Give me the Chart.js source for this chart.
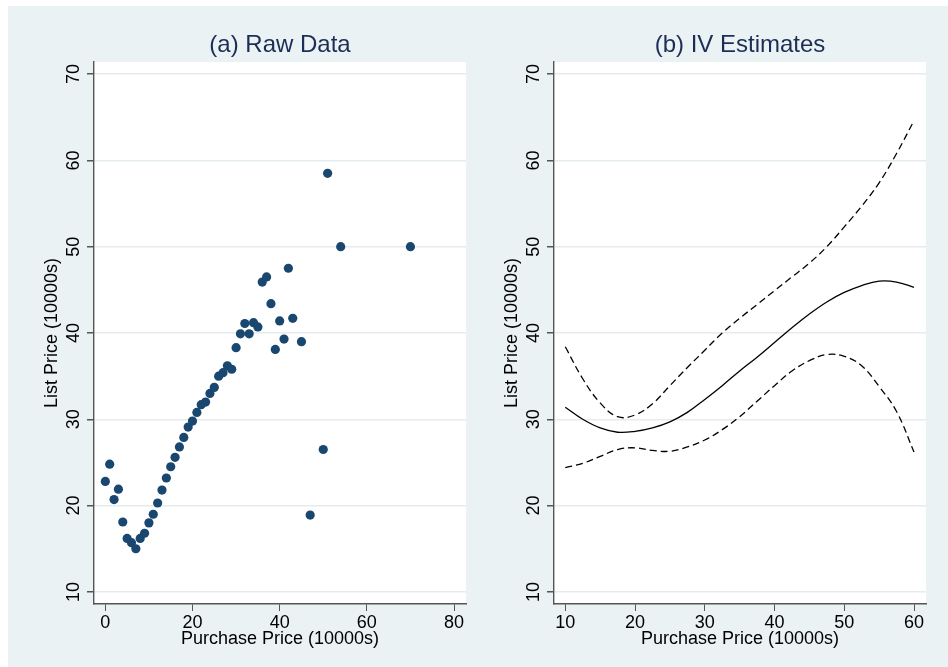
<!DOCTYPE html>
<html>
<head>
<meta charset="utf-8">
<title>List Price vs Purchase Price</title>
<script src="https://cdn.jsdelivr.net/npm/chart.js@4.4.1/dist/chart.umd.min.js"></script>
<style>
    body {
        margin: 0;
        width: 948px;
        height: 667px;
        overflow: hidden;
        position: relative;
        background: #ffffff;
    }

    #frame {
        position: absolute;
        left: 8px;
        top: 6px;
        width: 940px;
        height: 661px;
        background: #eaf2f3;
    }

    canvas {
        position: absolute;
        top: 6px;
    }

    #rawChart { left: 8px; }
    #ivChart { left: 478px; }
</style>
</head>
<body>

<div id="frame"></div>
<canvas id="rawChart" width="470" height="661"></canvas>
<canvas id="ivChart" width="470" height="661"></canvas>

<script>

// ================= DATA =================

// Axis ticks
const listTicks = [10, 20, 30, 40, 50, 60, 70];
const rawPurchaseTicks = [0, 20, 40, 60, 80];
const ivPurchaseTicks = [10, 20, 30, 40, 50, 60];

// (a) raw observations, purchase price vs list price (10000s)
const rawPurchase = [
    0, 1, 2, 3, 4, 5, 6, 7, 8, 9,
    10, 11, 12, 13, 14, 15, 16, 17, 18, 19,
    20, 21, 22, 23, 24, 25, 26, 27, 28, 29,
    30, 31, 32, 33, 34, 35, 36, 37, 38, 39,
    40, 41, 42, 43, 45, 47, 50, 51, 54, 70
];

const rawList = [
    22.8, 24.8, 20.7, 21.9, 18.1, 16.2, 15.7, 15.0, 16.2, 16.8,
    18.0, 19.0, 20.3, 21.8, 23.2, 24.5, 25.6, 26.8, 27.9, 29.1,
    29.8, 30.8, 31.7, 32.0, 33.0, 33.7, 35.0, 35.4, 36.2, 35.8,
    38.3, 39.9, 41.1, 39.9, 41.2, 40.7, 45.9, 46.5, 43.4, 38.1,
    41.4, 39.3, 47.5, 41.7, 39.0, 18.9, 26.5, 58.5, 50.0, 50.0
];

// (b) IV estimate with confidence band
const ivPurchase = [
    10, 12.5, 15, 17.5, 20, 22.5, 25, 27.5, 30, 32.5,
    35, 37.5, 40, 42.5, 45, 47.5, 50, 52.5, 55, 57.5, 60
];

const ivEstimate = [
    31.4, 30.0, 29.0, 28.5, 28.6, 29.0, 29.7, 30.8, 32.3, 33.9,
    35.6, 37.2, 38.9, 40.6, 42.2, 43.6, 44.7, 45.5, 46.0, 45.9, 45.3
];

const ivUpper = [
    38.4, 34.7, 31.9, 30.3, 30.5, 31.8, 33.9, 36.0, 38.0, 40.0,
    41.7, 43.3, 44.9, 46.5, 48.1, 50.0, 52.3, 54.7, 57.4, 60.8, 64.6
];

const ivLower = [
    24.4, 24.9, 25.7, 26.5, 26.7, 26.4, 26.3, 26.8, 27.6, 28.8,
    30.3, 32.1, 33.9, 35.6, 36.8, 37.5, 37.3, 36.2, 33.8, 30.9, 26.2
];


// ================= SHARED SETTINGS =================

Chart.defaults.font.family = "'Liberation Sans', Arial, sans-serif";
Chart.defaults.animation = false;

const axisColor = "#555555";
const gridColor = "#e4ecef";

function toPoints(xs, ys) {
    return xs.map((x, i) => ({ x: x, y: ys[i] }));
}

// White plot region inside the tinted frame
const plotBackground = {

    id: "plotBackground",

    beforeDraw(chart) {

        const { ctx, chartArea } = chart;

        ctx.save();
        ctx.fillStyle = "#ffffff";
        ctx.fillRect(
            chartArea.left,
            chartArea.top,
            chartArea.right - chartArea.left,
            chartArea.bottom - chartArea.top
        );
        ctx.restore();
    }
};

// Y tick labels turned on their side, centred on each tick
const sideTickLabels = {

    id: "sideTickLabels",

    afterDraw(chart) {

        const { ctx } = chart;
        const scale = chart.scales.y;

        ctx.save();
        ctx.fillStyle = "#000000";
        ctx.font = "18px 'Liberation Sans', Arial, sans-serif";
        ctx.textAlign = "center";
        ctx.textBaseline = "middle";

        scale.ticks.forEach(tick => {

            const y = scale.getPixelForValue(tick.value);

            ctx.save();
            ctx.translate(scale.right - 20, y);
            ctx.rotate(-Math.PI / 2);
            ctx.fillText(String(tick.value), 0, 0);
            ctx.restore();
        });

        ctx.restore();
    }
};

function listAxis(width) {
    return {
        type: "linear",
        min: 8.6,
        max: 71.4,
        afterBuildTicks: scale => {
            scale.ticks = listTicks.map(v => ({ value: v }));
        },
        afterFit: scale => {
            scale.width = width;
        },
        ticks: {
            display: false
        },
        grid: {
            color: gridColor,
            lineWidth: 1.5,
            tickColor: axisColor,
            tickLength: 7
        },
        border: {
            color: axisColor,
            width: 1.4
        },
        title: {
            display: true,
            text: "List Price (10000s)",
            color: "#000000",
            font: { size: 18 },
            padding: { top: width - 53, bottom: 0 }
        }
    };
}

function purchaseAxis(min, max, tickValues) {
    return {
        type: "linear",
        min: min,
        max: max,
        afterBuildTicks: scale => {
            scale.ticks = tickValues.map(v => ({ value: v }));
        },
        afterFit: scale => {
            scale.height = 63;
        },
        ticks: {
            color: "#000000",
            font: { size: 18 },
            padding: 1,
            maxRotation: 0,
            autoSkip: false
        },
        grid: {
            drawOnChartArea: false,
            tickColor: axisColor,
            tickLength: 7
        },
        border: {
            color: axisColor,
            width: 1.4
        },
        title: {
            display: true,
            text: "Purchase Price (10000s)",
            color: "#000000",
            font: { size: 18 },
            padding: { top: 0, bottom: 17 }
        }
    };
}

function panelTitle(text) {
    return {
        display: true,
        text: text,
        color: "#1c2d57",
        fullSize: false,
        font: { size: 24, weight: "normal" },
        padding: { top: 25, bottom: 2.2 }
    };
}


// ================= (a) RAW DATA =================

new Chart(
    document.getElementById("rawChart"),
    {
        type: "scatter",

        data: {
            datasets: [
                {
                    data: toPoints(rawPurchase, rawList),
                    backgroundColor: "#1a476f",
                    borderWidth: 0,
                    pointRadius: 4.6
                }
            ]
        },

        options: {
            responsive: false,
            layout: {
                padding: { left: 0, right: 12, top: 0, bottom: 0 }
            },
            scales: {
                x: purchaseAxis(-2.6, 82.75, rawPurchaseTicks),
                y: listAxis(86)
            },
            plugins: {
                legend: { display: false },
                tooltip: { enabled: false },
                title: panelTitle("(a) Raw Data")
            }
        },

        plugins: [
            plotBackground,
            sideTickLabels
        ]
    }
);


// ================= (b) IV ESTIMATES =================

function bandLine(ys, dashed) {
    return {
        data: toPoints(ivPurchase, ys),
        showLine: true,
        borderColor: "#000000",
        borderWidth: 1.3,
        borderDash: dashed ? [7, 4] : [],
        pointRadius: 0,
        tension: 0.4
    };
}

new Chart(
    document.getElementById("ivChart"),
    {
        type: "scatter",

        data: {
            datasets: [
                bandLine(ivUpper, true),
                bandLine(ivEstimate, false),
                bandLine(ivLower, true)
            ]
        },

        options: {
            responsive: false,
            layout: {
                padding: { left: 0, right: 22, top: 0, bottom: 0 }
            },
            scales: {
                x: purchaseAxis(8.38, 61.72, ivPurchaseTicks),
                y: listAxis(76)
            },
            plugins: {
                legend: { display: false },
                tooltip: { enabled: false },
                title: panelTitle("(b) IV Estimates")
            }
        },

        plugins: [
            plotBackground,
            sideTickLabels
        ]
    }
);

</script>
</body>
</html>
